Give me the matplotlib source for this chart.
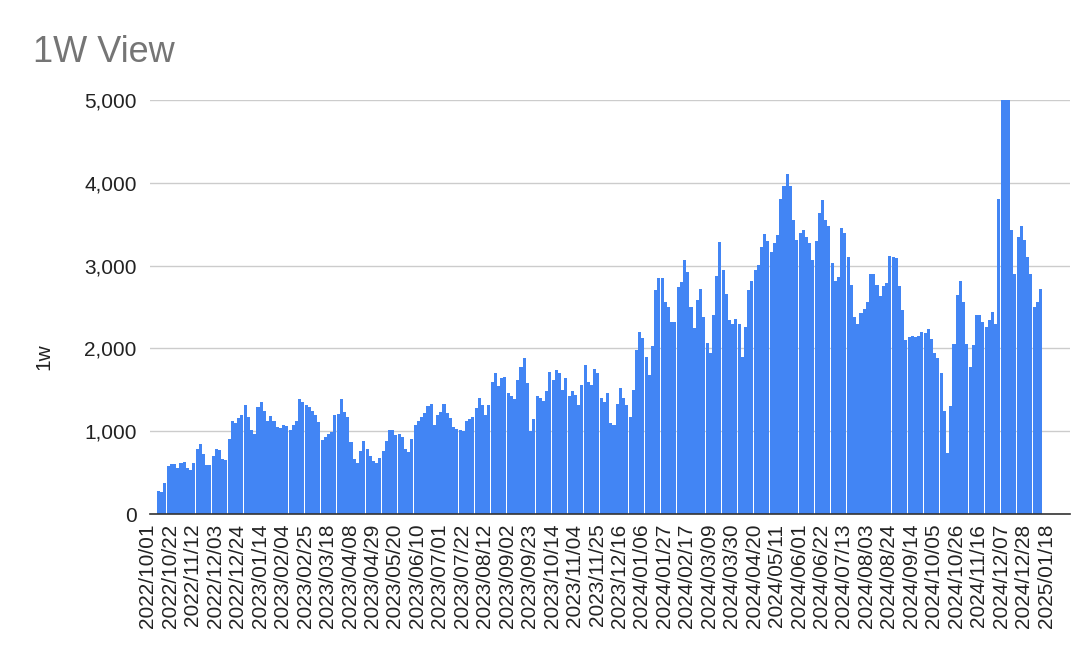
"""Bar chart of the rolling one-week view count."""

from __future__ import annotations

import matplotlib

matplotlib.use("Agg")

import matplotlib.dates as mdates
import matplotlib.pyplot as plt
import numpy as np
import pandas as pd
from matplotlib.ticker import FuncFormatter


TITLE = "1W View"
Y_LABEL = "1w"
START_DATE = "2022-10-01"
DAYS_PER_BAR = 3
LABEL_STEP_DAYS = 21
N_LABELS = 41
Y_TICKS = [0, 1000, 2000, 3000, 4000, 5000]

# one value per 3-day bucket
VIEWS = [
    280, 260, 380, 580, 600, 600, 560, 620, 630, 550, 530, 620,
    790, 840, 730, 590, 590, 700, 780, 770, 660, 650, 900, 1120,
    1100, 1160, 1190, 1320, 1170, 1020, 970, 1290, 1350, 1240, 1120, 1180,
    1120, 1050, 1040, 1070, 1060, 1020, 1070, 1120, 1390, 1350, 1320,
    1290, 1250, 1200, 1110, 890, 930, 970, 990, 1200, 1210, 1390, 1230,
    1170, 870, 660, 610, 760, 880, 790, 700, 640, 620, 680, 760,
    880, 1010, 1010, 950, 970, 930, 780, 750, 900, 1080, 1120, 1170,
    1220, 1300, 1330, 1080,
    1200, 1230, 1330, 1220, 1160, 1050, 1030, 1015, 1000, 1120, 1150,
    1170, 1280, 1400, 1320, 1200, 1320, 1600, 1700, 1540, 1640, 1660, 1460,
    1420, 1390, 1620, 1780, 1890, 1580, 1000, 1150, 1420, 1400, 1360, 1480,
    1720, 1620, 1740, 1700, 1500, 1640,
    1430, 1480, 1440, 1320, 1560, 1800, 1600, 1560, 1750, 1700, 1400,
    1350, 1460, 1100, 1080, 1330, 1520, 1400, 1320, 1170, 1500, 1980, 2200,
    2120, 1900, 1680, 2030, 2700, 2850, 2850, 2560, 2500, 2320, 2320, 2740,
    2800, 3070, 2920, 2500, 2250, 2580, 2720,
    2380, 2060, 1940, 2400, 2880, 3290, 2950, 2660, 2340, 2290, 2350, 2300,
    1900, 2260, 2700, 2820, 2950, 3010, 3230, 3380, 3300, 3170, 3270, 3370,
    3800, 3960, 4110, 3960, 3550, 3310, 3390, 3430, 3350, 3270, 3070, 3300,
    3640, 3790, 3550,
    3480, 3030, 2810, 2860, 3450, 3390, 3100, 2770, 2380, 2300, 2430, 2480,
    2560, 2900, 2900, 2760, 2630, 2750, 2790, 3110, 3100, 3090, 2750, 2460,
    2100, 2140, 2150, 2140, 2150, 2200, 2180, 2230, 2110, 1940, 1880, 1700,
    1250, 740, 1300, 2050, 2640,
    2820, 2560, 2050, 1770, 2040, 2400, 2400, 2320, 2260, 2340, 2440, 2300,
    3800, 5000, 5000, 5000, 3430, 2900, 3340, 3480, 3310, 3100,
    2900, 2500, 2560, 2720,
]

BAR_COLOR = "#4285f4"
TEXT_COLOR = "#222222"
plt.rcParams["font.family"] = ["Liberation Sans", "DejaVu Sans"]


def main() -> None:
    start = mdates.date2num(pd.Timestamp(START_DATE))
    x = start + DAYS_PER_BAR * np.arange(len(VIEWS)) + 1
    tick_dates = pd.date_range(START_DATE, periods=N_LABELS, freq=f"{LABEL_STEP_DAYS}D")

    fig = plt.figure(figsize=(10.92, 6.6), dpi=100)
    ax = fig.add_axes([150 / 1092, 1 - 514 / 660, 920 / 1092, 414 / 660])

    ax.bar(x, VIEWS, width=2.85, color=BAR_COLOR, linewidth=0, zorder=2)

    ax.set_xlim(start - 7.0, start + 853.5)
    ax.set_ylim(0, 5000)
    ax.set_yticks(Y_TICKS)
    ax.yaxis.set_major_formatter(FuncFormatter(lambda v, _: f"{int(v):,}"))
    ax.grid(axis="y", color="#cccccc", linewidth=1.0, zorder=0)

    ax.set_xticks(mdates.date2num(tick_dates))
    ax.set_xticklabels([d.strftime("%Y/%m/%d") for d in tick_dates],
                       rotation=90, ha="right", va="top")
    ax.tick_params(axis="x", length=0, pad=7, labelsize=15, labelcolor=TEXT_COLOR)
    ax.tick_params(axis="y", length=0, pad=9.5, labelsize=15, labelcolor=TEXT_COLOR)

    for side in ("top", "right", "left"):
        ax.spines[side].set_visible(False)
    ax.spines["bottom"].set_color("#333333")
    ax.spines["bottom"].set_linewidth(1.2)
    ax.spines["bottom"].set_zorder(3)

    fig.text(33 / 1092, 1 - 62 / 660, TITLE, fontsize=26, color="#757575", va="baseline")
    fig.text(44 / 1092, 1 - 357 / 660, Y_LABEL, rotation=90, fontsize=15,
             color=TEXT_COLOR, ha="center", va="center")

    fig.savefig("out.png", dpi=100)
    plt.close(fig)


if __name__ == "__main__":
    main()
